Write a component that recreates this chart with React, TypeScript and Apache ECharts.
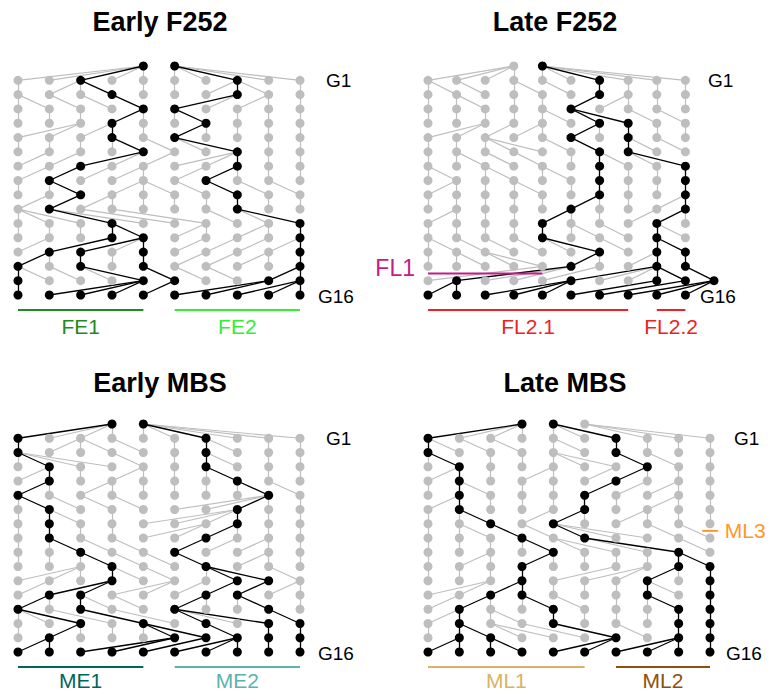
import React, { useEffect, useRef } from "react";
import * as echarts from "echarts";

// ---------- data ----------
const panelTitles = ["Early F252", "Late F252", "Early MBS", "Late MBS"];
const generationLabels = ["G1", "G16"];

// founders (row above G1): columns
const founders1 = [4, 5];
const founders2 = [3, 4];
const founders3 = [3, 4];
const founders4 = [3, 4, 5];

// parent column of each individual, rows G1..G16 (index = column)
const parents1 = [
  [4, 4, 4, 4, 4, 5, 5, 5, 5, 5],
  [0, 2, 2, 2, 4, 5, 7, 7, 7, 9],
  [0, 0, 1, 2, 3, 7, 7, 8, 8, 9],
  [0, 1, 2, 4, 4, 5, 5, 7, 8, 9],
  [2, 2, 3, 3, 4, 6, 6, 7, 8, 9],
  [0, 1, 2, 3, 3, 4, 5, 5, 8, 9],
  [1, 2, 4, 4, 5, 7, 7, 7, 8, 9],
  [1, 2, 3, 4, 4, 6, 7, 7, 8, 9],
  [0, 1, 1, 4, 4, 4, 5, 6, 7, 8],
  [1, 2, 3, 3, 4, 5, 6, 7, 8, 9],
  [0, 0, 0, 1, 1, 2, 3, 6, 7, 7],
  [0, 1, 2, 3, 3, 6, 6, 8, 8, 9],
  [1, 3, 4, 4, 4, 6, 7, 8, 9, 9],
  [1, 1, 2, 3, 4, 6, 7, 8, 8, 9],
  [0, 0, 1, 2, 2, 4, 5, 6, 9, 9],
  [0, 4, 4, 4, 5, 8, 8, 9, 9, 9],
];

const parents2 = [
  [3, 3, 3, 3, 4, 4, 4, 4, 4, 4],
  [0, 0, 1, 3, 3, 4, 6, 7, 8, 9],
  [0, 1, 1, 3, 4, 6, 7, 7, 8, 9],
  [0, 1, 2, 3, 4, 4, 5, 5, 7, 8],
  [2, 2, 3, 4, 4, 6, 6, 7, 8, 9],
  [0, 1, 2, 2, 2, 4, 5, 7, 7, 8],
  [0, 1, 1, 2, 3, 5, 6, 6, 7, 7],
  [0, 0, 2, 2, 4, 4, 6, 7, 8, 9],
  [1, 1, 2, 3, 3, 5, 6, 7, 8, 9],
  [0, 1, 2, 3, 4, 6, 6, 7, 9, 9],
  [1, 1, 2, 3, 5, 5, 6, 8, 9, 9],
  [0, 1, 2, 3, 4, 5, 5, 6, 8, 8],
  [0, 0, 1, 2, 3, 4, 4, 6, 8, 8],
  [0, 1, 1, 2, 2, 6, 6, 8, 8, 9],
  [4, 5, 5, 5, 6, 8, 8, 8, 8, 8, 9],
  [1, 1, 5, 5, 5, 8, 9, 10, 10, 10],
];

const parents3 = [
  [3, 3, 3, 3, 4, 4, 4, 4, 4, 4],
  [0, 2, 2, 2, 3, 5, 6, 6, 8, 9],
  [0, 0, 0, 0, 3, 5, 6, 6, 8, 9],
  [1, 1, 2, 4, 4, 5, 6, 6, 8, 9],
  [1, 1, 3, 3, 4, 5, 6, 7, 7, 8],
  [0, 0, 1, 2, 3, 8, 8, 8, 8, 9],
  [0, 1, 1, 3, 7, 7, 7, 7, 8, 9],
  [0, 1, 2, 3, 6, 6, 7, 7, 8, 9],
  [0, 1, 1, 2, 3, 6, 7, 8, 8, 9],
  [0, 1, 2, 2, 3, 4, 5, 8, 8, 9],
  [2, 2, 2, 3, 3, 4, 6, 6, 6, 8],
  [1, 3, 3, 5, 5, 6, 7, 8, 9, 9],
  [1, 1, 2, 2, 3, 6, 6, 7, 7, 9],
  [0, 0, 0, 1, 2, 3, 5, 5, 5, 8],
  [0, 2, 2, 3, 4, 4, 4, 6, 8, 9],
  [1, 1, 5, 5, 6, 7, 7, 7, 8, 9],
];

const parents4 = [
  [3, 3, 3, 3, 4, 4, 4, 5, 5, 5],
  [0, 0, 1, 2, 4, 4, 6, 7, 8, 9],
  [0, 0, 2, 3, 4, 4, 4, 6, 7, 9],
  [1, 1, 2, 4, 4, 6, 7, 7, 8, 9],
  [0, 1, 1, 3, 4, 6, 7, 8, 8, 9],
  [1, 1, 2, 3, 4, 5, 6, 8, 8, 9],
  [0, 1, 1, 4, 5, 5, 7, 7, 8, 9],
  [0, 1, 1, 2, 3, 4, 4, 4, 7, 8],
  [0, 1, 2, 3, 3, 4, 4, 5, 5, 8],
  [0, 2, 2, 4, 4, 5, 6, 7, 8, 8],
  [0, 1, 2, 3, 6, 7, 7, 8, 8, 9],
  [2, 2, 3, 3, 4, 5, 6, 7, 7, 9],
  [1, 2, 2, 3, 3, 4, 6, 7, 7, 9],
  [1, 1, 2, 2, 4, 5, 6, 7, 8, 9],
  [0, 1, 1, 2, 2, 3, 4, 6, 8, 9],
  [1, 1, 2, 2, 6, 6, 8, 8, 8, 9],
];

const panelFounders = [founders1, founders2, founders3, founders4];
const panelParents = [parents1, parents2, parents3, parents4];

// group brackets
const groupLabels = ["FE1", "FE2", "FL1", "FL2.1", "FL2.2", "ME1", "ME2", "ML1", "ML2", "ML3"];
const groupPanels = [0, 0, 1, 1, 1, 2, 2, 3, 3, 3];
const groupFrom = [0, 5, 0, 0, 8, 0, 5, 0, 6, 8.75];
const groupTo = [4, 9, 4, 7, 9, 4, 9, 5, 9, 9.25];
const groupRow = [17, 17, 14.5, 17, 17, 17, 17, 17, 17, 7.5];
const groupColors = ["#1f8a1f", "#33ee33", "#c51b8a", "#ee2222", "#ee2222", "#01665e", "#5ab4ac", "#d8b365", "#8c510a", "#fe9929"];

// ---------- layout ----------
const grids = [
  { left: 18, top: 66, width: 282, height: 229 },
  { left: 428, top: 66, width: 286, height: 229 },
  { left: 18, top: 424, width: 282, height: 228 },
  { left: 428, top: 424, width: 282, height: 228 },
];
const xMax = [9, 10, 9, 9];
const titlePos = [[160, 22], [555, 22], [160, 383], [565, 383]];
const gLabelX = [326, 708, 326, 734];

const GREY = "#bebebe";

function buildPanel(p: number) {
  const founders = panelFounders[p];
  const parents = panelParents[p];
  const rows: number[][] = [founders, ...parents.map((r) => r.map((_, i) => i))];
  const black: Set<number>[] = rows.map(() => new Set<number>());
  rows[16].forEach((c) => black[16].add(c));
  for (let r = 16; r >= 1; r--) {
    black[r].forEach((c) => black[r - 1].add(parents[r - 1][c]));
  }
  const greyEdges: any[] = [];
  const blackEdges: any[] = [];
  for (let r = 1; r <= 16; r++) {
    parents[r - 1].forEach((pc, c) => {
      const e = { coords: [[c, r], [pc, r - 1]] };
      if (black[r].has(c)) blackEdges.push(e);
      else greyEdges.push(e);
    });
  }
  const greyPts: number[][] = [];
  const blackPts: number[][] = [];
  rows.forEach((cols, r) =>
    cols.forEach((c) => {
      if (black[r].has(c)) blackPts.push([c, r]);
      else greyPts.push([c, r]);
    })
  );
  return [
    {
      type: "lines",
      coordinateSystem: "cartesian2d",
      xAxisIndex: p,
      yAxisIndex: p,
      data: greyEdges,
      lineStyle: { color: GREY, width: 1.2, opacity: 1 },
      silent: true,
      z: 1,
    },
    {
      type: "lines",
      coordinateSystem: "cartesian2d",
      xAxisIndex: p,
      yAxisIndex: p,
      data: blackEdges,
      lineStyle: { color: "#000", width: 1.3, opacity: 1 },
      silent: true,
      z: 2,
    },
    {
      type: "scatter",
      xAxisIndex: p,
      yAxisIndex: p,
      data: greyPts,
      symbolSize: 9,
      itemStyle: { color: GREY, opacity: 1 },
      silent: true,
      z: 3,
    },
    {
      type: "scatter",
      xAxisIndex: p,
      yAxisIndex: p,
      data: blackPts,
      symbolSize: 9,
      itemStyle: { color: "#000", opacity: 1 },
      silent: true,
      z: 4,
    },
  ];
}

function toPx(p: number, col: number, row: number) {
  const g = grids[p];
  return [g.left + (col / xMax[p]) * g.width, g.top + (row / 16) * g.height];
}

export default function App() {
  const ref = useRef<HTMLDivElement>(null);
  useEffect(() => {
    if (!ref.current) return;
    const chart = echarts.init(ref.current, undefined, { renderer: "svg" });
    const font = "Liberation Sans, Arial, sans-serif";
    const graphic: any[] = [];
    panelTitles.forEach((t, i) => {
      graphic.push({
        type: "text",
        x: titlePos[i][0],
        y: titlePos[i][1],
        style: { text: t, fontSize: 27, fontWeight: "bold", fontFamily: font, fill: "#000", textAlign: "center", textVerticalAlign: "middle" },
      });
      const g = grids[i];
      graphic.push({
        type: "text",
        x: gLabelX[i],
        y: g.top + g.height / 16,
        style: { text: generationLabels[0], fontSize: 19, fontFamily: font, fill: "#000", textAlign: "left", textVerticalAlign: "middle" },
      });
      graphic.push({
        type: "text",
        x: gLabelX[i] - 8,
        y: g.top + g.height + 1,
        style: { text: generationLabels[1], fontSize: 19, fontFamily: font, fill: "#000", textAlign: "left", textVerticalAlign: "middle" },
      });
    });
    groupLabels.forEach((lab, k) => {
      const p = groupPanels[k];
      const [x1, y] = toPx(p, groupFrom[k], groupRow[k]);
      const [x2] = toPx(p, groupTo[k], groupRow[k]);
      const yy = groupRow[k] === 17 ? grids[p].top + grids[p].height + 15 : y;
      graphic.push({
        type: "line",
        shape: { x1, y1: yy, x2, y2: yy },
        style: { stroke: groupColors[k], lineWidth: 2 },
        z: 10,
      });
      let tx = (x1 + x2) / 2;
      let ty = p >= 2 ? yy + 13 : yy + 16;
      let align = "center";
      if (lab === "FL1") {
        tx = x1 - 13;
        ty = yy - 6;
        align = "right";
      }
      if (lab === "ML3") {
        tx = x2 + 7;
        ty = yy;
        align = "left";
      }
      graphic.push({
        type: "text",
        x: tx,
        y: ty,
        style: { text: lab, fontSize: lab === "FL1" ? 23 : 21, fontFamily: font, fill: groupColors[k], textAlign: align, textVerticalAlign: "middle" },
        z: 10,
      });
    });

    const series: any[] = [];
    for (let p = 0; p < 4; p++) series.push(...buildPanel(p));

    chart.setOption({
      animation: false,
      backgroundColor: "#fff",
      grid: grids.map((g) => ({ ...g, containLabel: false })),
      xAxis: grids.map((_, i) => ({ gridIndex: i, type: "value", min: 0, max: xMax[i], show: false })),
      yAxis: grids.map((_, i) => ({ gridIndex: i, type: "value", min: 0, max: 16, inverse: true, show: false })),
      series,
      graphic,
    });
    return () => chart.dispose();
  }, []);
  return <div ref={ref} style={{ position: "fixed", left: 0, top: 0, width: 770, height: 690, background: "#fff" }} />;
}
